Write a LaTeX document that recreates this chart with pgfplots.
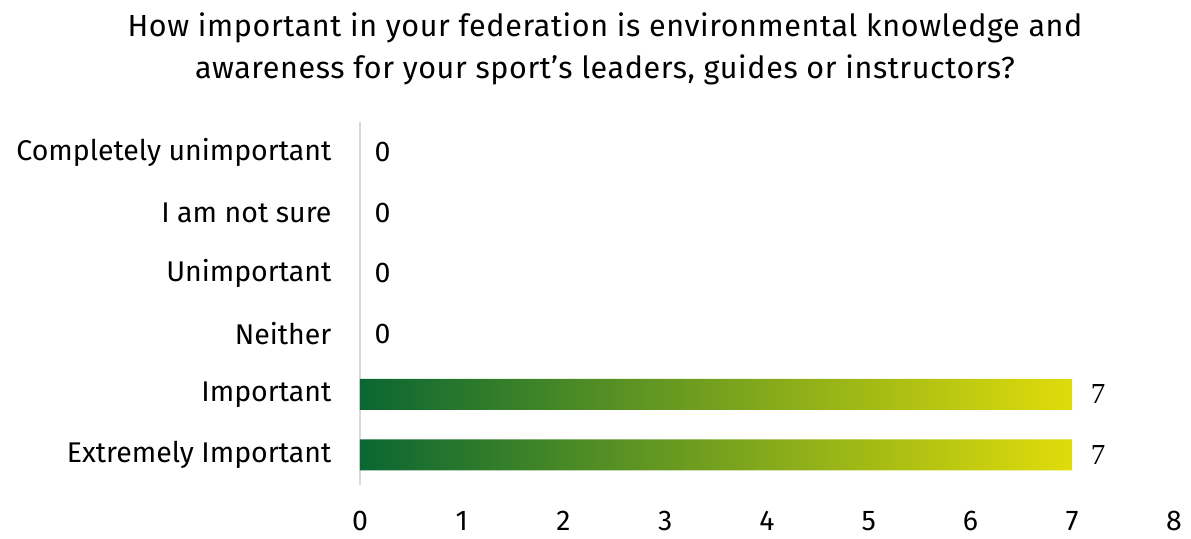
\documentclass[border=0pt]{standalone}
\usepackage{pgfplots}
\pgfplotsset{compat=1.18}
\usepackage{fontspec}
\setmainfont{Fira Sans}
\newfontfamily\serifnum{Liberation Serif}
\definecolor{gstart}{HTML}{0A6632}
\definecolor{gend}{HTML}{E0DC0A}
\definecolor{axgray}{HTML}{D9D9D9}
\begin{document}
\begin{tikzpicture}
\useasboundingbox (-360pt,-53pt) rectangle (831pt,485pt);
\begin{axis}[
  at={(0,0)}, anchor=south west,
  scale only axis, width=814pt, height=363pt,
  xmin=0, xmax=8, ymin=-0.5, ymax=5.5,
  xbar, bar width=31pt, bar shift=0pt,
  xtick={0,1,...,8}, ytick={0,1,2,3,4,5},
  yticklabels={Extremely Important, Important, Neither, Unimportant, I am not sure, Completely unimportant},
  major tick length=0pt,
  axis lines*=left,
  x axis line style={draw=none},
  y axis line style={draw=axgray, line width=1.5pt},
  tick label style={font=\fontsize{28.5}{32}\selectfont, black},
  /pgf/number format/assume math mode=true,
  xticklabel style={yshift=-23pt},
  yticklabel style={xshift=-25pt},
  clip=false,
]
\addplot[draw=none, fill=none, nodes near coords, nodes near coords align={horizontal},
  every node near coord/.append style={font=\fontsize{28.5}{32}\selectfont, black, xshift=11pt}]
  coordinates {(0,2) (0,3) (0,4) (0,5)};
\addplot[draw=none, left color=gstart, right color=gend, nodes near coords, nodes near coords align={horizontal},
  every node near coord/.append style={font=\serifnum\fontsize{29}{32}\selectfont, black, xshift=15pt}]
  coordinates {(7,0) (7,1)};
\end{axis}
\node[font=\addfontfeatures{LetterSpace=2}\fontsize{30.5}{34}\selectfont] at (245pt,457pt) {How important in your federation is environmental knowledge and};
\node[font=\addfontfeatures{LetterSpace=2}\fontsize{30.5}{34}\selectfont] at (245pt,415pt) {awareness for your sport’s leaders, guides or instructors?};
\end{tikzpicture}
\end{document}
